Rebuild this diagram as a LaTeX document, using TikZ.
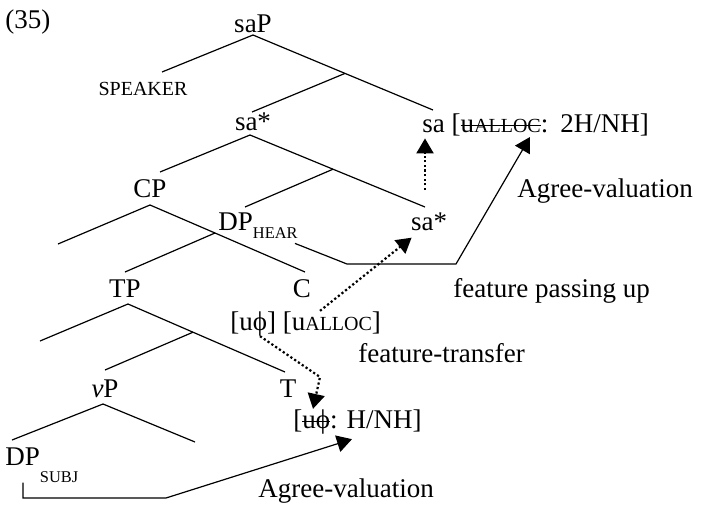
\documentclass[tikz,border=0pt]{standalone}
\usepackage{fontspec}
\setmainfont{Liberation Serif}
\usetikzlibrary{arrows.meta}

\newcommand{\smcap}[1]{{\fontsize{10}{12}\selectfont #1}}
\newcommand{\lowcap}[2]{\raisebox{#1}{\fontsize{8.2}{9}\selectfont #2}}
\newcommand{\phich}{ϕ}
\newsavebox{\strikebox}
\newcommand{\strike}[1]{\sbox{\strikebox}{#1}\rlap{\rule[0.24em]{\wd\strikebox}{0.5pt}}\usebox{\strikebox}}

\begin{document}
\begin{tikzpicture}[>={Triangle[width=8.5pt,length=7.5pt]}, font=\fontsize{13.5}{16}\selectfont,
  lbl/.style={inner sep=0pt, anchor=base}, lblw/.style={inner sep=0pt, anchor=base west},
  branch/.style={line width=0.6pt}, link/.style={line width=0.6pt, ->},
  pass/.style={line width=1.1pt, dash pattern=on 1.1pt off 1.2pt, ->}]
  \useasboundingbox (0pt, 0pt) rectangle (350.5pt, -252.0pt);

  \draw (2.5pt, -14.0pt)node[lblw](num){(35)};

  % tree labels
  \draw (126.5pt, -16.0pt)node[lbl](saP){saP};
  \draw (71.5pt, -47.5pt)node[lbl](spk){\smcap{SPEAKER}};
  \draw (126.5pt, -65.0pt)node[lbl](saS){sa*};
  \draw (211.0pt, -66.0pt)node[lblw](sa){sa [\strike{u\smcap{ALLOC}}:\hspace{0.45em}2H/NH]};
  \draw (75.0pt, -98.5pt)node[lbl](CP){CP};
  \draw (109.0pt, -115.0pt)node[lblw](DPh){DP\lowcap{-4pt}{HEAR}};
  \draw (214.5pt, -115.0pt)node[lbl](saL){sa*};
  \draw (62.5pt, -148.5pt)node[lbl](TP){TP};
  \draw (151.0pt, -148.5pt)node[lbl](C){C};
  \draw (115.0pt, -165.0pt)node[lblw](feat){[u\phich] [u\smcap{ALLOC}]};
  \draw (52.5pt, -198.5pt)node[lbl](vP){\textit{v}P};
  \draw (144.0pt, -198.5pt)node[lbl](T){T};
  \draw (146.5pt, -214.0pt)node[lblw](val){[\strike{u\phich}: H/NH]};
  \draw (2.5pt, -232.5pt)node[lblw](DPs){DP\lowcap{-8.5pt}{SUBJ}};

  % notes on the arrows
  \draw (258.5pt, -98.5pt)node[lblw](agr1){Agree-valuation};
  \draw (226.5pt, -148.5pt)node[lblw](fpu){feature passing up};
  \draw (179.0pt, -181.0pt)node[lblw](ftr){feature-transfer};
  \draw (129.0pt, -248.5pt)node[lblw](agr2){Agree-valuation};

  % branch points
  \coordinate (saP-d) at (126.5pt, -17.5pt);
  \coordinate (spk-u) at (81.0pt, -36.0pt);
  \coordinate (saPbar) at (172.5pt, -36.7pt);
  \coordinate (sa-u) at (216.5pt, -55.0pt);
  \coordinate (saS-u) at (126.0pt, -56.0pt);
  \coordinate (saS-d) at (125.0pt, -67.5pt);
  \coordinate (CP-u) at (80.0pt, -86.0pt);
  \coordinate (saSbar) at (166.5pt, -84.6pt);
  \coordinate (saL-u) at (212.5pt, -103.5pt);
  \coordinate (DPh-u) at (122.5pt, -103.5pt);
  \coordinate (CP-d) at (75.0pt, -102.5pt);
  \coordinate (spec) at (29.0pt, -122.0pt);
  \coordinate (CPbar) at (107.5pt, -116.5pt);
  \coordinate (C-u) at (152.5pt, -136.0pt);
  \coordinate (TP-u) at (62.5pt, -136.0pt);
  \coordinate (TP-d) at (64.0pt, -152.0pt);
  \coordinate (TP-l) at (20.0pt, -170.5pt);
  \coordinate (TPbar) at (96.5pt, -166.1pt);
  \coordinate (T-u) at (142.5pt, -186.0pt);
  \coordinate (vP-u) at (52.5pt, -185.0pt);
  \coordinate (vP-d) at (51.5pt, -202.0pt);
  \coordinate (DPs-u) at (6.0pt, -220.0pt);
  \coordinate (vP-r) at (97.5pt, -221.0pt);

  \draw[branch] (spk-u) -- (saP-d) -- (saPbar) -- (sa-u);
  \draw[branch] (saPbar) -- (saS-u);
  \draw[branch] (CP-u) -- (saS-d) -- (saSbar) -- (saL-u);
  \draw[branch] (saSbar) -- (DPh-u);
  \draw[branch] (spec) -- (CP-d) -- (CPbar) -- (C-u);
  \draw[branch] (CPbar) -- (TP-u);
  \draw[branch] (TP-l) -- (TP-d) -- (TPbar) -- (T-u);
  \draw[branch] (TPbar) -- (vP-u);
  \draw[branch] (DPs-u) -- (vP-d) -- (vP-r);

  % agreement and feature movement
  \coordinate (hA1) at (173.5pt, -132.0pt);
  \coordinate (hA2) at (228.0pt, -132.0pt);
  \coordinate (hB) at (83.0pt, -249.0pt);
  \coordinate (up-s) at (212.5pt, -95.0pt);
  \coordinate (ft-bend) at (160.0pt, -188.5pt);

  \draw[link] ([shift={(-1.5pt,-2.5pt)}]DPh.south east) -- (hA1) -- (hA2) -- ([shift={(54pt,-0.5pt)}]sa.south west);
  \draw[link] ([xshift=9pt]DPs.south west) |- (hB) -- ([shift={(29.5pt,-2.5pt)}]val.south west);
  \draw[pass] (up-s) -- ([shift={(1.5pt,-1.2pt)}]sa.south west);
  \draw[pass] ([xshift=45pt]feat.north west) -- ([shift={(0.5pt,-3.5pt)}]saL.south west);
  \draw[pass] ([xshift=15pt]feat.south west) -- (ft-bend) -- ([xshift=10pt]val.north west);
\end{tikzpicture}
\end{document}
